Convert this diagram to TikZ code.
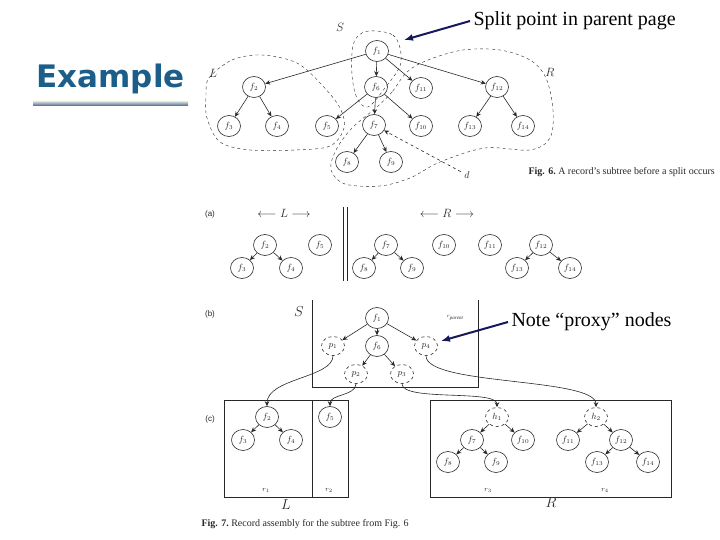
\documentclass[tikz,border=0pt]{standalone}
\usepackage{fontspec}
\setmainfont{Liberation Serif}
\setsansfont{Liberation Sans}
\newfontfamily\titlefont{DejaVu Sans}
\usetikzlibrary{arrows.meta,positioning,shapes.geometric}
\definecolor{titleblue}{RGB}{28,94,138}
\definecolor{navy}{RGB}{22,24,92}
\definecolor{scan}{RGB}{40,40,40}

\begin{document}
\begin{tikzpicture}[x=1pt, y=-1pt,
    fn/.style={draw=scan, semithick, ellipse, minimum width=23pt, minimum height=21pt, inner sep=0pt, font=\small, text=scan},
    px/.style={fn, dashed, minimum height=19pt},
    arr/.style={draw=scan, semithick, -{Stealth[length=5pt, width=4.5pt]}},
    zone/.style={draw=scan, dashed, thin},
    frame/.style={draw=scan, semithick},
    tag/.style={font=\sffamily\fontsize{8}{9}\selectfont, text=scan},
    lbl/.style={font=\large, text=scan},
    rlbl/.style={font=\scriptsize, text=scan},
    figcap/.style={font=\fontsize{10}{12}\selectfont, text=scan, anchor=west},
    note/.style={font=\fontsize{20}{24}\selectfont, anchor=west},
    callout/.style={draw=navy, line width=2pt, -{Latex[length=9pt, width=7pt]}}
]
\useasboundingbox (0,0) rectangle (720,540);

% title
\node[font=\titlefont\bfseries\fontsize{31}{34}\selectfont, text=titleblue, anchor=west] (title) at (33,79) {Example};
\shade[top color=gray!20, bottom color={rgb,255:red,60;green,100;blue,140}] (33,101) rectangle (188,106);

% Fig. 6
\node[lbl] (ls) at (340,27) {$S$};
\node[lbl] (ll) at (213,73) {$L$};
\node[lbl] (lr) at (550,72) {$R$};
\node[fn] (f1) at (377,51) {$f_1$};
\node[fn] (f2) at (254,87) {$f_2$};
\node[fn] (f6) at (376,87) {$f_6$};
\node[fn] (f11) at (421,88) {$f_{11}$};
\node[fn] (f12) at (497,87) {$f_{12}$};
\node[fn] (f3) at (229,126) {$f_3$};
\node[fn] (f4) at (277,126) {$f_4$};
\node[fn] (f5) at (327,126) {$f_5$};
\node[fn] (f7) at (374,125) {$f_7$};
\node[fn] (f10) at (421,126) {$f_{10}$};
\node[fn] (f13) at (470,126) {$f_{13}$};
\node[fn] (f14) at (523,126) {$f_{14}$};
\node[fn] (f8) at (347,162) {$f_8$};
\node[fn] (f9) at (391,162) {$f_9$};
\draw[arr] (f1) -- (f2);
\draw[arr] (f1) -- (f6);
\draw[arr] (f1) -- (f11);
\draw[arr] (f1) -- (f12);
\draw[arr] (f2) -- (f3);
\draw[arr] (f2) -- (f4);
\draw[arr] (f6) -- (f5);
\draw[arr] (f6) -- (f7);
\draw[arr] (f6) -- (f10);
\draw[arr] (f12) -- (f13);
\draw[arr] (f12) -- (f14);
\draw[arr] (f7) -- (f8);
\draw[arr] (f7) -- (f9);
\draw[zone] plot[smooth cycle, tension=0.55] coordinates {(376,31) (393,35) (400,48) (400,66) (385,88) (368,107) (357,98) (352,75) (353,45) (362,33)};
\draw[zone] plot[smooth cycle, tension=0.55] coordinates {(209,78) (232,60) (262,55) (297,63) (322,85) (340,108) (344,128) (330,146) (295,150) (250,150) (220,142) (207,118) (206,95)};
\draw[zone] plot[smooth cycle, tension=0.55] coordinates {(407,72) (392,92) (377,107) (352,128) (336,150) (331,170) (345,184) (380,186) (410,178) (440,162) (485,148) (530,150) (550,138) (553,110) (546,78) (530,60) (500,50) (463,50) (428,60)};
\node[lbl, font=\normalsize] (d) at (467,175) {$d$};
\draw[arr, dashed] (d) -- (f7);
\node[figcap] (cap6) at (525,172) {\textbf{Fig. 6.}\ A record's subtree before a split occurs};

% Fig. 7 (a)
\node[tag] (ta) at (210,214) {(a)};
\node[lbl] (al) at (284,213) {$\longleftarrow L \longrightarrow$};
\node[lbl] (ar) at (447,213) {$\longleftarrow R \longrightarrow$};
\draw[frame] (343,207) -- (343,281);
\draw[frame] (347,207) -- (347,281);
\node[fn] (af2) at (265,245) {$f_2$};
\node[fn] (af3) at (242,268) {$f_3$};
\node[fn] (af4) at (291,268) {$f_4$};
\node[fn] (af5) at (320,245) {$f_5$};
\node[fn] (af7) at (386,245) {$f_7$};
\node[fn] (af8) at (364,268) {$f_8$};
\node[fn] (af9) at (412,268) {$f_9$};
\node[fn] (af10) at (444,245) {$f_{10}$};
\node[fn] (af11) at (490,245) {$f_{11}$};
\node[fn] (af12) at (541,245) {$f_{12}$};
\node[fn] (af13) at (517,268) {$f_{13}$};
\node[fn] (af14) at (570,268) {$f_{14}$};
\draw[arr] (af2) -- (af3);
\draw[arr] (af2) -- (af4);
\draw[arr] (af7) -- (af8);
\draw[arr] (af7) -- (af9);
\draw[arr] (af12) -- (af13);
\draw[arr] (af12) -- (af14);

% Fig. 7 (b)
\node[tag] (tb) at (210,314) {(b)};
\node[lbl, font=\Large] (bs) at (299,312) {$S$};
\draw[frame] (312,300) -- (312,387) -- (478,387) -- (478,300);
\node[rlbl, font=\tiny] (rp) at (455,318) {$r_{\mathit{parent}}$};
\node[fn] (bf1) at (377,318) {$f_1$};
\node[fn] (bf6) at (377,346) {$f_6$};
\node[px] (p1) at (333,346) {$p_1$};
\node[px] (p4) at (426,346) {$p_4$};
\node[px] (p2) at (356,374) {$p_2$};
\node[px] (p3) at (402,374) {$p_3$};
\draw[arr] (bf1) -- (p1);
\draw[arr] (bf1) -- (bf6);
\draw[arr] (bf1) -- (p4);
\draw[arr] (bf6) -- (p2);
\draw[arr] (bf6) -- (p3);

% Fig. 7 (c)
\node[tag] (tc) at (210,419) {(c)};
\draw[frame] (224,400) rectangle (348,497);
\draw[frame] (312,400) -- (312,497);
\draw[frame] (430,400) rectangle (671,497);
\node[lbl, font=\Large] (cl) at (286,505) {$L$};
\node[lbl, font=\Large] (cr) at (551,503) {$R$};
\node[rlbl] (r1) at (266,490) {$r_1$};
\node[rlbl] (r2) at (329,490) {$r_2$};
\node[rlbl] (r3) at (488,490) {$r_3$};
\node[rlbl] (r4) at (605,490) {$r_4$};
\node[fn] (cf2) at (267,417) {$f_2$};
\node[fn] (cf3) at (243,440) {$f_3$};
\node[fn] (cf4) at (291,440) {$f_4$};
\node[fn] (cf5) at (330,417) {$f_5$};
\node[px] (h1) at (497,417) {$h_1$};
\node[fn] (cf7) at (472,440) {$f_7$};
\node[fn] (cf10) at (523,440) {$f_{10}$};
\node[fn] (cf8) at (448,462) {$f_8$};
\node[fn] (cf9) at (496,462) {$f_9$};
\node[px] (h2) at (596,417) {$h_2$};
\node[fn] (cf11) at (568,440) {$f_{11}$};
\node[fn] (cf12) at (621,440) {$f_{12}$};
\node[fn] (cf13) at (597,462) {$f_{13}$};
\node[fn] (cf14) at (648,462) {$f_{14}$};
\draw[arr] (cf2) -- (cf3);
\draw[arr] (cf2) -- (cf4);
\draw[arr] (h1) -- (cf7);
\draw[arr] (h1) -- (cf10);
\draw[arr] (cf7) -- (cf8);
\draw[arr] (cf7) -- (cf9);
\draw[arr] (h2) -- (cf11);
\draw[arr] (h2) -- (cf12);
\draw[arr] (cf12) -- (cf13);
\draw[arr] (cf12) -- (cf14);
\draw[arr] (p1.south) .. controls +(0,22) and +(0,-28) .. (cf2.north);
\draw[arr] (p2.south) .. controls +(0,12) and +(0,-12) .. (cf5.north);
\draw[arr] (p3.south) .. controls +(0,18) and +(0,-18) .. (h1.north);
\draw[arr] (p4.south) .. controls +(0,30) and +(0,-30) .. (h2.north);
\node[figcap] (cap7) at (198,524) {\textbf{Fig. 7.}\ Record assembly for the subtree from Fig. 6};

% call-outs
\node[note] (split) at (470,21) {Split point in parent page};
\coordinate (splitpt) at (404,40);
\draw[callout] (split.west) -- (splitpt);
\node[note] (proxy) at (508,322) {Note “proxy” nodes};
\coordinate (proxypt) at (441,341);
\draw[callout] (proxy.west) -- (proxypt);
\end{tikzpicture}
\end{document}
